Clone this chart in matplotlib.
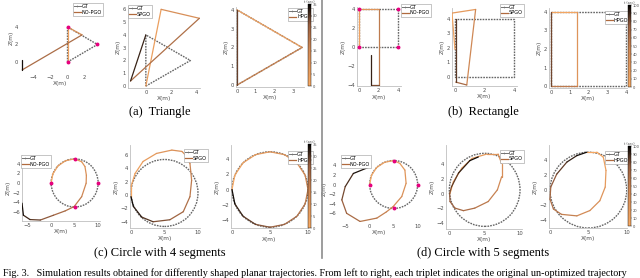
import numpy as np
import matplotlib.pyplot as plt
import matplotlib.cm as cm
from matplotlib.collections import LineCollection
from matplotlib.colors import LinearSegmentedColormap, Normalize
from matplotlib.lines import Line2D
from matplotlib.patches import Circle

W, H = 640, 278

# ---- data ----
# triangle
tri_gt_x = [0, 3.5, 0, 0]
tri_gt_z = [0, 2, 4, 0]
tri_corner_x = [0, 3.5, 0]
tri_corner_z = [0, 2, 4]
tri_nopgo_x = [0, 0, 1.7, -5.3, -5.3]
tri_nopgo_z = [0, 4, 3.1, -0.9, 0.2]
tri_spgo_x = [0, 1.2, 4.2, -1.2, 0]
tri_spgo_z = [0, 6.0, 5.3, 0.4, 4.0]
tri_hpgo_x = [0, 3.5, 0, 0]
tri_hpgo_z = [4, 2, 0, 4]

# rectangle
rect_gt_x = [0, 4, 4, 0, 0]
rect_gt_z = [0, 0, 4, 4, 0]
rect_nopgo_x = [0, 0, 2, 2, 1.2, 1.2]
rect_nopgo_z = [0, 4, 4, -4, -4, -0.8]
rect_spgo_x = [0.0, -0.2, 1.4, 0.8, 0.05, 0.05]
rect_spgo_z = [1.9, 4.4, 4.65, -0.55, -0.35, 4.0]
rect_hpgo_x = [0, 1.4, 1.4, 0, 0]
rect_hpgo_z = [4, 4, 0, 0, 4]

# circle, 4 segments
c4_center = (5, 0)
c4_center_spgo = (5, 0.3)
c4_radius = 5
c4_corner_x = [5, 10, 5, 0]
c4_corner_z = [5, 0, -5, 0]
c4_nopgo_x = [0, 0.38, 1.46, 3.09, 5.0, 6.5, 7.2, 7.5, 7.45, 6.5, 4.9, 3.0, 0.5, -2.3, -4.5, -5.9, -6.2]
c4_nopgo_z = [0, 1.91, 3.54, 4.62, 5.0, 4.4, 3.4, 1.6, -0.06, -2.85, -4.9, -5.8, -6.7, -7.7, -7.6, -6.7, -4.2]
c4_spgo_x = [0, 0, 0.6, 1.8, 3.8, 6.1, 7.6, 8.1, 8.8, 9.05, 8.8, 7.8, 5.8, 3.3, 1.6, 0.35, 0]
c4_spgo_z = [-0.25, 1.24, 3.2, 5.0, 6.2, 6.7, 6.5, 6.0, 4.7, 2.2, -0.25, -2.5, -3.7, -4.0, -3.3, -1.7, -0.25]
c4_hpgo_x = [0, 0.38, 1.46, 3.09, 5, 6.91, 8.54, 9.62, 10, 9.62, 8.54, 6.91, 5, 3.09, 1.46, 0.38, 0]
c4_hpgo_z = [0, 1.91, 3.54, 4.62, 5, 4.62, 3.54, 1.91, 0, -1.91, -3.54, -4.62, -5, -4.62, -3.54, -1.91, 0]

# circle, 5 segments
c5_center = (5, 0)
c5_center_spgo = (5, 0.5)
c5_radius = 5
c5_corner_x = [0, 5, 10, 5]
c5_corner_z = [0, 5, 0, -4.8]
c5_nopgo_x = [0, 0.38, 1.46, 3.09, 5, 6.3, 7.35, 7.6, 6.7, 4.9, 3.5, 1.5, -2.0, -4.8, -5.8, -5.1, -3.4, 0.06]
c5_nopgo_z = [0, 1.91, 3.54, 4.62, 5, 4.4, 3.0, 0.25, -2.5, -4.6, -5.7, -7.0, -7.7, -6.0, -3.2, -0.45, 2.3, 3.7]
c5_spgo_x = [0.1, 0.57, 1.75, 3.2, 5.3, 6.9, 7.4, 7.4, 6.8, 5.5, 3.6, 2.0, 0.8, 0.1, 0.05, 0.3, 1.3, 2.9, 4.1]
c5_spgo_z = [0.0, 1.6, 3.45, 4.8, 5.4, 5.4, 4.1, 2.3, 0.5, -1.1, -2.0, -2.35, -2.0, -1.1, 0.0, 0.9, 2.8, 4.5, 5.0]
c5_hpgo_x = [4.8, 6.1, 6.95, 7.3, 7.2, 6.5, 5.2, 3.5, 1.5, 0.45, 0, 0.1, 0.87, 2.2, 3.5, 4.8]
c5_hpgo_z = [5.0, 5.0, 4.35, 2.6, 0.4, -1.4, -2.7, -3.4, -3.2, -2.5, -1.2, 0.4, 2.1, 3.7, 4.55, 5.0]

captions = ['(a)  Triangle', '(b)  Rectangle', '(c) Circle with 4 segments', '(d) Circle with 5 segments']
fig_caption = ('Fig. 3.   Simulation results obtained for differently shaped planar trajectories. '
               'From left to right, each triplet indicates the original un-optimized trajectory')

cmap = LinearSegmentedColormap.from_list(
    'traj', [(0, '#f8aa64'), (0.45, '#d28a56'), (0.75, '#9a6040'), (1, '#000000')])

fig = plt.figure(figsize=(6.4, 2.78), dpi=100)


def px_axes(l, r, t, b):
    return fig.add_axes([l / W, 1 - b / H, (r - l) / W, (b - t) / H])


def style(ax, xl, yl, xt, yt, spines=True):
    ax.set_xlim(xl)
    ax.set_ylim(yl)
    ax.set_xticks(xt)
    ax.set_yticks(yt)
    ax.tick_params(labelsize=3.8, length=0, pad=1.5, colors='0.3')
    for s in ['top', 'right']:
        ax.spines[s].set_visible(False)
    for s in ['left', 'bottom']:
        ax.spines[s].set_color('0.75')
        ax.spines[s].set_linewidth(0.6)
        ax.spines[s].set_visible(spines)
    ax.set_xlabel('X(m)', fontsize=4.2, labelpad=1, color='0.3')
    ax.set_ylabel('Z(m)', fontsize=4.2, labelpad=1, color='0.3')
    ax.patch.set_alpha(0)


def gt_path(ax, xs, zs):
    ax.plot(xs, zs, color='0.4', lw=1.0, ls=(0, (1.2, 0.8)), zorder=1)


def gt_circle(ax, c, r):
    ax.add_patch(Circle(c, r, fill=False, ec='0.4', lw=1.0, ls=(0, (1.2, 0.8)), zorder=1))


def corners(ax, xs, zs):
    ax.plot(xs, zs, ls='none', marker='o', ms=1.8, color='#e6007e', zorder=4)


def time_line(ax, xs, zs, lw=0.9):
    pts = np.column_stack([xs, zs])
    seg = np.stack([pts[:-1], pts[1:]], axis=1)
    d = np.hypot(*np.diff(pts, axis=0).T)
    s = np.concatenate([[0], np.cumsum(d)])
    mid = (s[:-1] + s[1:]) / 2 / s[-1]
    lc = LineCollection(seg, cmap=cmap, norm=Normalize(0, 1), linewidths=lw, zorder=3)
    lc.set_capstyle('round')
    lc.set_joinstyle('round')
    lc.set_array(mid)
    ax.add_collection(lc)


def legend(ax, name, x, y):
    h = [Line2D([], [], color='0.45', lw=0.7, marker='+', ms=2, mew=0.4),
         Line2D([], [], color='#b06a3e', lw=0.9)]
    lg = ax.legend(h, ['GT', name], loc='upper left', bbox_to_anchor=(x / W, 1 - y / H),
                   bbox_transform=fig.transFigure, fontsize=3.6, frameon=True, fancybox=False,
                   edgecolor='0.6', framealpha=1, borderpad=0.2, labelspacing=0.1,
                   handlelength=1.3, handletextpad=0.3, borderaxespad=0)
    lg.get_frame().set_linewidth(0.4)


def cbar(l, t, b, vmax, step):
    cax = fig.add_axes([l / W, 1 - b / H, 3 / W, (b - t) / H])
    sm = cm.ScalarMappable(norm=Normalize(0, vmax), cmap=cmap)
    cb = fig.colorbar(sm, cax=cax, ticks=np.arange(0, vmax + 1, step))
    cb.ax.tick_params(labelsize=2.6, length=1, width=0.3, pad=0.5, colors='0.3')
    cb.outline.set_linewidth(0.3)
    cax.set_title('t (sec)', fontsize=2.4, pad=1, color='0.3')


# ---- (a) triangle ----
ax = px_axes(20.5, 100, 2.5, 72.5)
gt_path(ax, tri_gt_x, tri_gt_z)
time_line(ax, tri_nopgo_x, tri_nopgo_z)
corners(ax, tri_corner_x, tri_corner_z)
style(ax, (-5.5, 3.8), (-1.2, 6.8), [-4, -2, 0, 2], [0, 2, 4], spines=False)
legend(ax, 'NO-PGO', 73, 3)

ax = px_axes(128, 200, 5.5, 88)
gt_path(ax, tri_gt_x, tri_gt_z)
time_line(ax, tri_spgo_x, tri_spgo_z)
style(ax, (-1.4, 4.25), (-0.15, 6.3), [0, 2, 4], range(7))
legend(ax, 'SPGO', 128, 5)

ax = px_axes(236, 304, 7, 87)
gt_path(ax, tri_gt_x, tri_gt_z)
time_line(ax, tri_hpgo_x, tri_hpgo_z)
style(ax, (-0.05, 3.6), (-0.1, 4.15), range(4), range(5))
legend(ax, 'HPGO', 288, 8)
cbar(308, 4, 86, 35, 5)

# ---- (b) rectangle ----
ax = px_axes(357, 401, 6.7, 86.4)
gt_path(ax, rect_gt_x, rect_gt_z)
time_line(ax, rect_nopgo_x, rect_nopgo_z)
corners(ax, rect_gt_x[:4], rect_gt_z[:4])
style(ax, (-0.2, 4.3), (-4.1, 4.2), [0, 2, 4], [-4, -2, 0, 2, 4])
legend(ax, 'NO-PGO', 401, 4)

ax = px_axes(452, 517, 8, 86)
gt_path(ax, rect_gt_x, rect_gt_z)
time_line(ax, rect_spgo_x, rect_spgo_z)
style(ax, (-0.2, 4.2), (-0.62, 4.75), [0, 2, 4], range(5))
legend(ax, 'SPGO', 500, 4)

ax = px_axes(549, 627, 8, 88)
gt_path(ax, rect_gt_x, rect_gt_z)
time_line(ax, rect_hpgo_x, rect_hpgo_z)
style(ax, (-0.1, 4.05), (-0.1, 4.2), range(5), range(5))
legend(ax, 'HPGO', 605, 11)
cbar(628, 5, 87, 100, 10)

# ---- (c) circle with 4 segments ----
ax = px_axes(22, 100, 155, 221)
gt_circle(ax, c4_center, c4_radius)
time_line(ax, c4_nopgo_x, c4_nopgo_z)
corners(ax, c4_corner_x, c4_corner_z)
style(ax, (-6.2, 10.4), (-7.9, 5.8), [-5, 0, 5, 10], [-6, -4, -2, 0, 2, 4])
legend(ax, 'NO-PGO', 21, 155)

ax = px_axes(130, 200, 145, 228)
gt_circle(ax, c4_center_spgo, c4_radius)
time_line(ax, c4_spgo_x, c4_spgo_z)
style(ax, (-0.15, 10.3), (-4.93, 7.46), [0, 5, 10], [-4, -2, 0, 2, 4, 6])
legend(ax, 'SPGO', 184, 149)

ax = px_axes(231, 308, 145, 228.3)
gt_circle(ax, c4_center, c4_radius)
time_line(ax, c4_hpgo_x, c4_hpgo_z)
style(ax, (-0.13, 10.0), (-5.14, 5.9), [0, 5, 10], [-4, -2, 0, 2, 4])
legend(ax, 'HPGO', 288, 151)
cbar(308, 144, 228, 35, 5)

# ---- (d) circle with 5 segments ----
ax = px_axes(338, 420, 155, 221.7)
gt_circle(ax, c5_center, c5_radius)
time_line(ax, c5_nopgo_x, c5_nopgo_z)
corners(ax, c5_corner_x, c5_corner_z)
style(ax, (-6.6, 10.5), (-7.75, 6.15), [-5, 0, 5, 10], [-6, -4, -2, 0, 2, 4], spines=False)
legend(ax, 'NO-PGO', 341, 155)

ax = px_axes(446, 522, 145, 229)
gt_circle(ax, c5_center_spgo, c5_radius)
time_line(ax, c5_spgo_x, c5_spgo_z)
style(ax, (-0.47, 10.28), (-4.86, 6.64), [0, 5, 10], [-4, -2, 0, 2, 4])
legend(ax, 'SPGO', 500, 150)

ax = px_axes(549, 627, 145, 228)
gt_circle(ax, c5_center, c5_radius)
time_line(ax, c5_hpgo_x, c5_hpgo_z)
style(ax, (-0.13, 10.04), (-5.0, 5.95), [0, 5, 10], [-4, -2, 0, 2, 4])
legend(ax, 'HPGO', 605, 151)
cbar(628, 146, 226, 100, 10)

# ---- captions and separator ----
for (cx, cy), txt in zip([(160, 112), (483, 112), (160, 253), (483, 253)], captions):
    fig.text(cx / W, 1 - cy / H, txt, ha='center', va='center', fontsize=9, family='Liberation Serif')
fig.text(3 / W, 1 - 273 / H, fig_caption, ha='left', va='center', fontsize=7.3, family='Liberation Serif')
fig.add_artist(Line2D([322 / W, 322 / W], [1 - 258 / H, 1], color='0.55', lw=1.2))

fig.savefig('out.png', dpi=100)
